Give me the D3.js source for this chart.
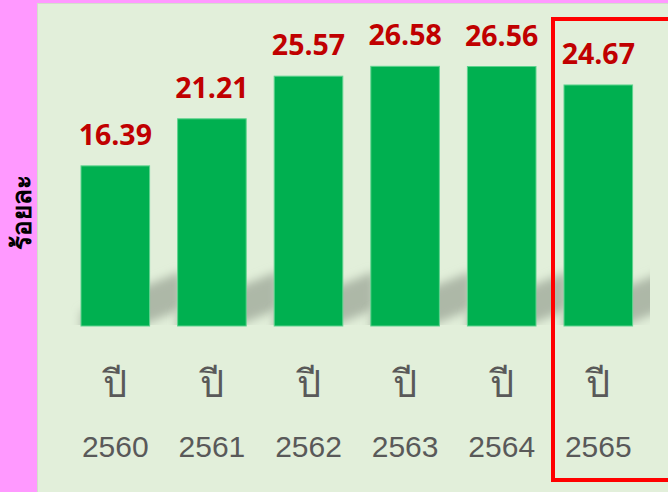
<!DOCTYPE html>
<html>
<head>
<meta charset="utf-8">
<script src="https://cdn.jsdelivr.net/npm/d3@7"></script>
<style>
body{margin:0;background:#ff99ff;}
svg{display:block;}
</style>
</head>
<body>
<div id="chart"></div>
<script>
var years=["2560","2561","2562","2563","2564","2565"];
var values=[16.39,21.21,25.57,26.58,26.56,24.67];
var yearPrefix="ปี";
var axisTitle="ร้อยละ";

var W=668,H=492;
var svg=d3.select("#chart").append("svg")
	.attr("width",W)
	.attr("height",H);

var x=d3.scaleBand()
	.domain(years)
	.range([67,646.6])
	.paddingInner(0.29)
	.paddingOuter(0.145);

var y=d3.scaleLinear()
	.domain([0,30])
	.range([326,326-30*9.77]);

var defs=svg.append("defs");
defs.append("filter")
	.attr("id","blur")
	.attr("x","-50%").attr("y","-50%")
	.attr("width","200%").attr("height","200%")
	.append("feGaussianBlur")
	.attr("stdDeviation",5);
defs.append("clipPath")
	.attr("id","shadowClip")
	.append("rect")
	.attr("x",37).attr("y",3)
	.attr("width",613).attr("height",y(0)-4);

// panel
svg.append("rect")
	.attr("x",37.5).attr("y",3.5)
	.attr("width",W).attr("height",H)
	.attr("fill","#e2efda")
	.attr("stroke","#d3dfcb");

var data=years.map(function(d,i){return {year:d,value:values[i]};});

// shadows
var sh=svg.append("g").attr("clip-path","url(#shadowClip)");
sh.selectAll("path")
	.data(data)
	.enter()
	.append("path")
	.attr("d",function(d){
		var x0=x(d.year),x1=x0+x.bandwidth(),b=y(0);
		var e=x1+32;
		return "M"+x0+" "+(b-14)+" L"+e+" "+(b-42-0.4*32)+" L"+e+" "+(b-4-0.4*32)+" L"+x0+" "+(b+24)+"Z";
	})
	.attr("fill","#adb8a7")
	.attr("filter","url(#blur)");

// bars
svg.append("g")
	.selectAll("rect")
	.data(data)
	.enter()
	.append("rect")
	.attr("x",function(d){return x(d.year);})
	.attr("y",function(d){return y(d.value);})
	.attr("width",x.bandwidth())
	.attr("height",function(d){return y(0)-y(d.value);})
	.attr("fill","#00b050")
	.attr("stroke","#5fd38e")
	.attr("stroke-width",1);

// value labels
svg.append("g")
	.selectAll("text")
	.data(data)
	.enter()
	.append("text")
	.text(function(d){return d.value.toFixed(2);})
	.attr("x",function(d){return x(d.year)+x.bandwidth()/2;})
	.attr("y",function(d){return y(d.value)-21;})
	.attr("text-anchor","middle")
	.attr("fill","#c00000")
	.style("font-family","'Open Sans',sans-serif")
	.style("font-weight","bold")
	.style("font-size","28.5px");

// category labels
var cat=svg.append("g")
	.selectAll("g")
	.data(data)
	.enter()
	.append("g")
	.attr("transform",function(d){return "translate("+(x(d.year)+x.bandwidth()/2)+",0)";});
cat.append("text")
	.text(yearPrefix)
	.attr("y",397)
	.attr("text-anchor","middle")
	.attr("fill","#595959")
	.style("font-family","'Liberation Sans',Arial,sans-serif")
	.style("font-size","38px");
cat.append("text")
	.text(function(d){return d.year;})
	.attr("y",457)
	.attr("text-anchor","middle")
	.attr("fill","#595959")
	.style("font-family","'Liberation Sans',Arial,sans-serif")
	.style("font-size","30px");

// axis title
svg.append("text")
	.text(axisTitle)
	.attr("transform","translate(31,212) rotate(-90)")
	.attr("text-anchor","middle")
	.attr("fill","#000")
	.style("font-family","'Noto Sans',sans-serif")
	.style("font-weight","bold")
	.style("font-size","26px");

// highlight box
svg.append("rect")
	.attr("x",553).attr("y",19)
	.attr("width",140).attr("height",461)
	.attr("fill","none")
	.attr("stroke","#ff0000")
	.attr("stroke-width",4);
</script>
</body>
</html>
